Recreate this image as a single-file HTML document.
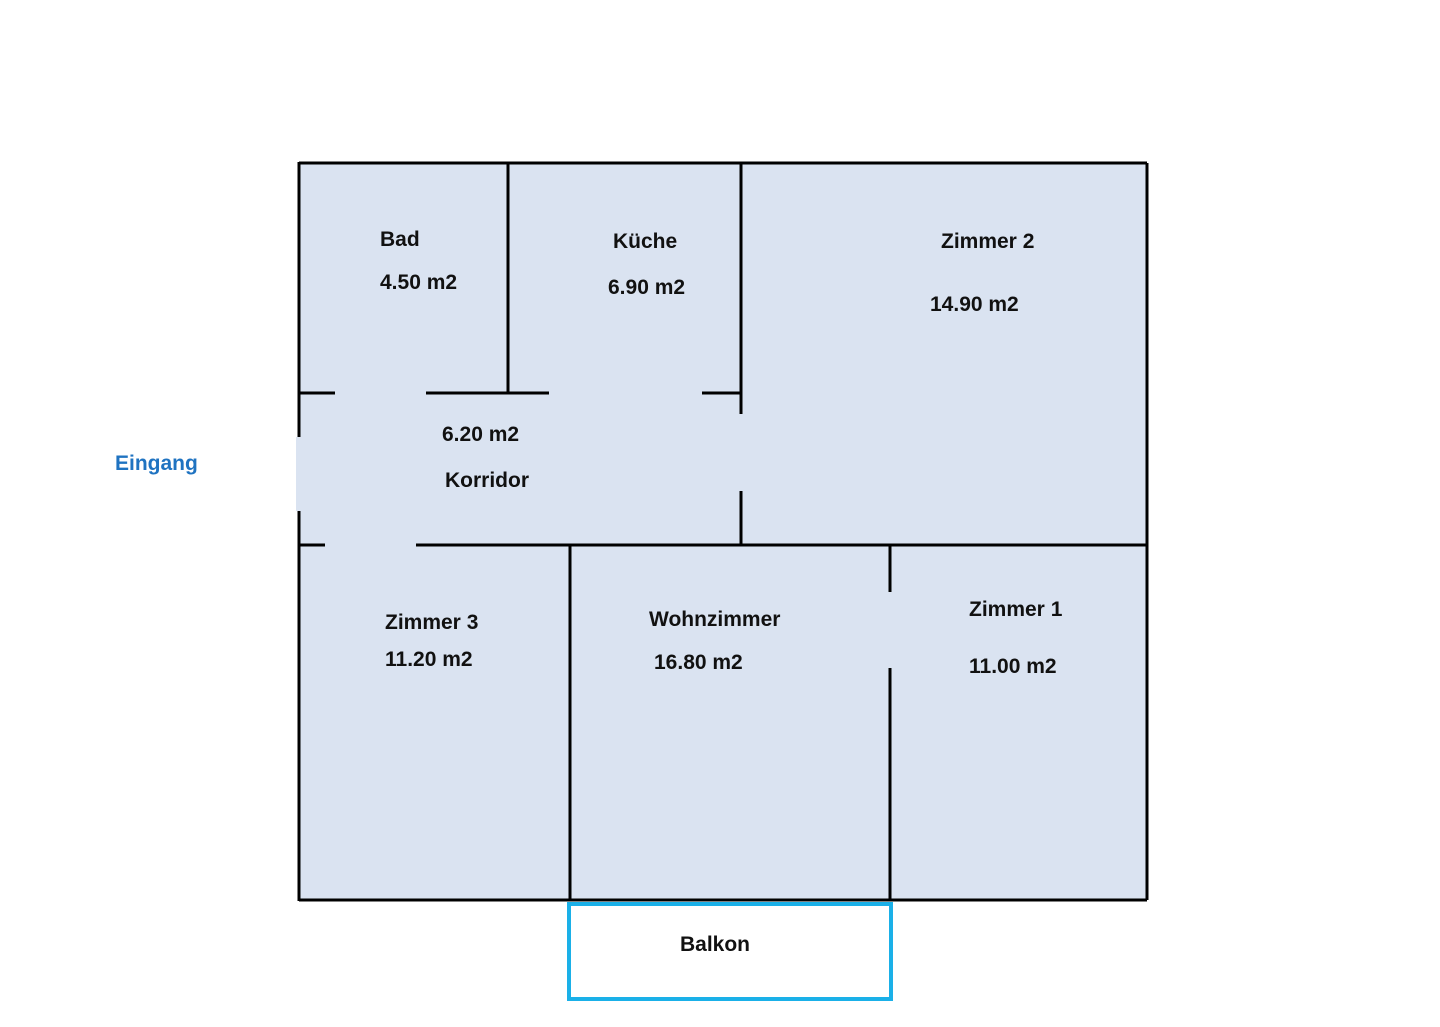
<!DOCTYPE html>
<html><head><meta charset="utf-8"><style>
html,body{margin:0;padding:0;background:#fff;}
svg text{font-family:"Liberation Sans",sans-serif;font-weight:bold;font-size:21px;fill:#111;}
</style></head><body>
<svg width="1440" height="1022" viewBox="0 0 1440 1022" xmlns="http://www.w3.org/2000/svg">
<rect x="299" y="163" width="848" height="737" fill="#dae3f1"/>
<rect x="296" y="437" width="6" height="74" fill="#dae3f1"/>
<g stroke="#000" stroke-width="3" fill="none">
<line x1="299" y1="163" x2="1147" y2="163"/>
<line x1="1147" y1="163" x2="1147" y2="900"/>
<line x1="299" y1="900" x2="1147" y2="900"/>
<line x1="299" y1="162" x2="299" y2="437"/>
<line x1="299" y1="511" x2="299" y2="901"/>
<line x1="508" y1="163" x2="508" y2="393"/>
<line x1="741" y1="163" x2="741" y2="414"/>
<line x1="741" y1="491" x2="741" y2="545"/>
<line x1="299" y1="393" x2="335" y2="393"/>
<line x1="426" y1="393" x2="549" y2="393"/>
<line x1="702" y1="393" x2="741" y2="393"/>
<line x1="299" y1="545" x2="325" y2="545"/>
<line x1="416" y1="545" x2="1147" y2="545"/>
<line x1="570" y1="545" x2="570" y2="900"/>
<line x1="890" y1="545" x2="890" y2="592"/>
<line x1="890" y1="668" x2="890" y2="900"/>
</g>
<rect x="569" y="904" width="322" height="95" fill="#fff" stroke="#1ab0e8" stroke-width="4"/>
<text x="380" y="246">Bad</text>
<text x="380" y="289">4.50 m2</text>
<text x="613" y="248">Küche</text>
<text x="608" y="294">6.90 m2</text>
<text x="941" y="248">Zimmer 2</text>
<text x="930" y="311">14.90 m2</text>
<text x="442" y="441">6.20 m2</text>
<text x="445" y="487">Korridor</text>
<text x="385" y="629">Zimmer 3</text>
<text x="385" y="666">11.20 m2</text>
<text x="649" y="626">Wohnzimmer</text>
<text x="654" y="669">16.80 m2</text>
<text x="969" y="616">Zimmer 1</text>
<text x="969" y="673">11.00 m2</text>
<text x="680" y="951">Balkon</text>
<text x="115" y="470" style="fill:#1f73c1">Eingang</text>
</svg>
</body></html>
